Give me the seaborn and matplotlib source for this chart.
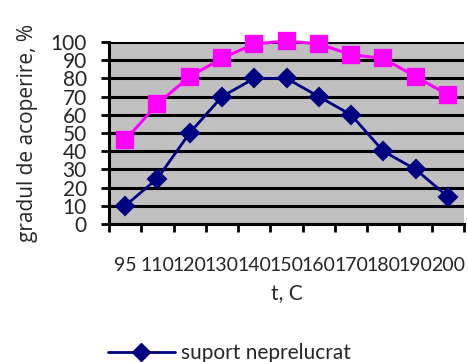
import matplotlib
matplotlib.use("Agg")
import matplotlib.pyplot as plt
from matplotlib.lines import Line2D
import seaborn as sns
import pandas as pd
import numpy as np

# Temperature steps and coverage degree for the two supports
temps = ["95", "110", "120", "130", "140", "150", "160", "170", "180", "190", "200"]
untreated = [10, 25, 50, 70, 80, 80, 70, 60, 40, 30, 15]
treated = [46, 66, 81, 91, 99, 100.5, 99, 93, 91, 81, 71]
legend_label = "suport neprelucrat"

NAVY = "#000080"
MAGENTA = "#FF00FF"
FONT = ["Lato", "DejaVu Sans"]

sns.set_theme(style="white")
plt.rcParams["font.family"] = FONT

fig = plt.figure(figsize=(4.68, 3.62), dpi=100)
ax = fig.add_axes([109 / 468, 1 - 224 / 362, (464 - 109) / 468, (224 - 42) / 362])
ax.set_facecolor("#C0C0C0")

df_u = pd.DataFrame({"t": temps, "v": untreated})
df_t = pd.DataFrame({"t": temps, "v": treated})

sns.pointplot(data=df_t, x="t", y="v", order=temps, color=MAGENTA, marker="s",
              markersize=12, linewidth=2.2, ax=ax)
sns.pointplot(data=df_u, x="t", y="v", order=temps, color=NAVY, marker="D",
              markersize=9.5, linewidth=2.0, ax=ax)
for ln in ax.lines:
    ln.set_clip_on(False)
    ln.set_zorder(5)

ax.set_xlim(-0.5, len(temps) - 0.5)
ax.set_ylim(0, 100)
ax.set_yticks(np.arange(0, 101, 10))
ax.yaxis.grid(True, color="black", linewidth=2.2)
ax.xaxis.grid(False)
ax.set_axisbelow(True)

# category labels at centres, tick marks on category boundaries
ax.set_xticks(range(len(temps)))
ax.set_xticklabels(temps)
ax.set_xticks(np.arange(-0.5, len(temps), 1.0), minor=True)
ax.tick_params(axis="x", which="major", length=0, pad=24, labelsize=14)
ax.tick_params(axis="x", which="minor", length=6, width=2, color="black", direction="out", bottom=True)
ax.tick_params(axis="y", which="major", length=6, width=2, color="black", direction="out",
               left=True, labelsize=15, pad=10)

for side in ("top", "right"):
    ax.spines[side].set_visible(False)
for side in ("left", "bottom"):
    ax.spines[side].set_color("black")
    ax.spines[side].set_linewidth(2.2)

ax.set_xlabel("t, C", fontsize=15, labelpad=6)
ax.set_ylabel("gradul de acoperire, %", fontsize=15, labelpad=9,
              family=["Open Sans", "DejaVu Sans"])

handle = Line2D([], [], color=NAVY, marker="D", markersize=9.5, linewidth=2.0)
fig.legend([handle], [legend_label], loc="center left", bbox_to_anchor=(108 / 468, 1 - 353 / 362),
           frameon=False, fontsize=15, handlelength=3.2, handletextpad=0.3,
           borderpad=0, borderaxespad=0)

fig.savefig("out.png", dpi=100)
